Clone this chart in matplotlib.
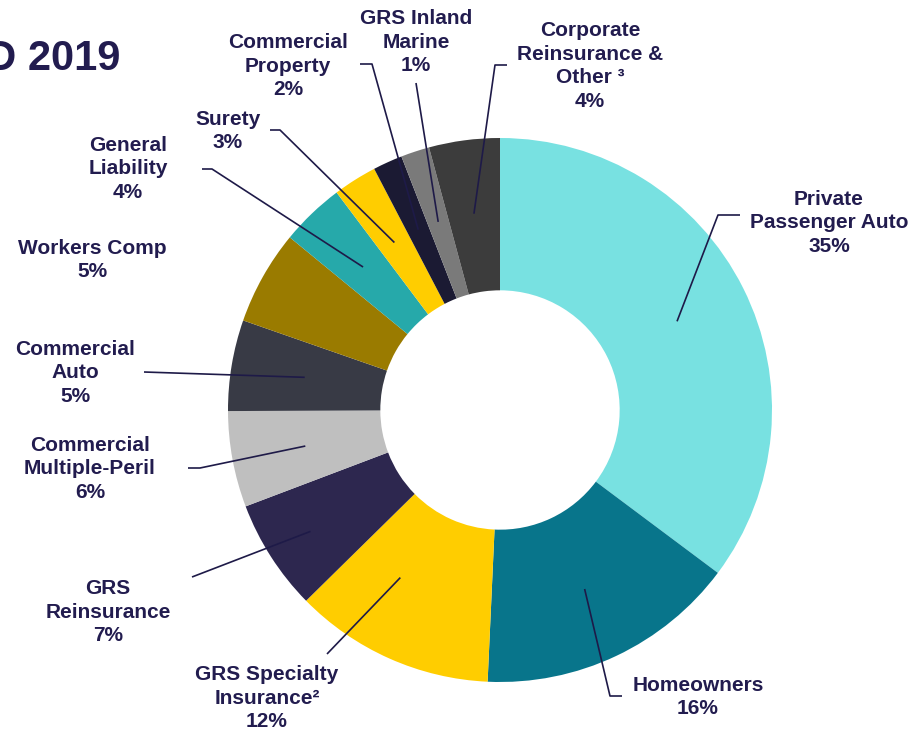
import matplotlib
matplotlib.use("Agg")
import matplotlib.pyplot as plt
import numpy as np

# segment data (shares, labels as printed)
categories = [
    "Private\nPassenger Auto",
    "Homeowners",
    "GRS Specialty\nInsurance\u00b2",
    "GRS\nReinsurance",
    "Commercial\nMultiple-Peril",
    "Commercial\nAuto",
    "Workers Comp",
    "General\nLiability",
    "Surety",
    "Commercial\nProperty",
    "GRS Inland\nMarine",
    "Corporate\nReinsurance &\nOther \u00b3",
]
shares = [35.2, 15.5, 11.9, 6.6, 5.7, 5.4, 5.6, 3.8, 2.6, 1.75, 1.7, 4.2]
pct_labels = ["35%", "16%", "12%", "7%", "6%", "5%", "5%", "4%", "3%", "2%", "1%", "4%"]
colors = ["#78e1e1", "#08758b", "#ffcd00", "#2d274f", "#bfbfbf", "#383a45",
          "#9a7b00", "#26a9aa", "#ffcd00", "#1b1a33", "#7a7a7a", "#3c3c3c"]

NAVY = "#221c4f"
W, H = 914, 732

# layout in pixel coords (top-down y)
cx, cy, R = 500, 410, 272
hole = 0.44
text_pos = [(829, 223), (698, 697), (267, 698), (108, 612), (90, 469), (75, 373),
            (92, 260), (128, 169), (228, 131), (288, 66), (416, 42), (590, 66)]
# where each leader leaves its wedge: (radius px, angle shift deg)
anchor = [(198, 0), (198, 0), (195, -6.7), (225, 0), (198, 0), (198, 0),
          (198, 0), (198, 0), (198, 0), (198, 0), (198, 0), (198, 0)]
leader_pts = [
    [(718, 215), (740, 215)],
    [(610, 696), (622, 696)],
    [(327, 654)],
    [(192, 577)],
    [(200, 468), (188, 468)],
    [(144, 372)],
    [],
    [(212, 169), (202, 169)],
    [(280, 130), (270, 130)],
    [(372, 64), (360, 64)],
    [(416, 83)],
    [(495, 65), (507, 65)],
]


def Y(y):
    return H - y


plt.rcParams["font.family"] = ["Liberation Sans", "DejaVu Sans"]

fig = plt.figure(figsize=(W / 100, H / 100), dpi=100)
ax = fig.add_axes([0, 0, 1, 1])

wedges, _ = ax.pie(
    shares,
    colors=colors,
    startangle=90,
    counterclock=False,
    radius=R,
    center=(cx, Y(cy)),
    wedgeprops=dict(width=R * (1 - hole), linewidth=0),
)
ax.set_xlim(0, W)
ax.set_ylim(0, H)
ax.axis("off")

for w, pts, (r_a, dang), (tx, ty), name, pct in zip(
        wedges, leader_pts, anchor, text_pos, categories, pct_labels):
    if pts:
        ang = np.deg2rad((w.theta1 + w.theta2) / 2 + dang)
        xs = [cx + r_a * np.cos(ang)] + [p[0] for p in pts]
        ys = [Y(cy) + r_a * np.sin(ang)] + [Y(p[1]) for p in pts]
        ax.plot(xs, ys, color="#1e1a48", lw=1.2, solid_capstyle="butt")
    ax.text(tx, Y(ty), name + "\n" + pct, ha="center", va="center",
            multialignment="center", fontsize=15, fontweight="bold",
            color=NAVY, linespacing=1.33)

ax.text(120, Y(70), "YTD 2019", ha="right", va="baseline",
        fontsize=30, fontweight="bold", color=NAVY)

fig.savefig("out.png", dpi=100)
